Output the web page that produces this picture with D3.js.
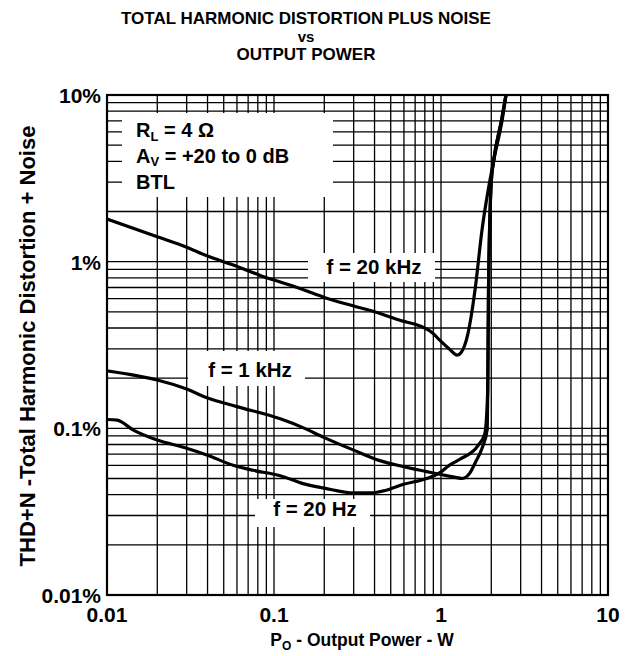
<!DOCTYPE html>
<html><head><meta charset="utf-8">
<script src="https://cdn.jsdelivr.net/npm/d3@7"></script>
<style>
html,body{margin:0;padding:0;background:#fff;}
text{font-family:"Liberation Sans",Arial,Helvetica,sans-serif;font-weight:bold;fill:#000;}
</style></head>
<body><svg id="c" width="628" height="656"></svg>
<script>
// ---- data ----
const p20k = [0.01,0.02,0.03,0.04,0.057,0.082,0.109,0.149,0.2,0.3,0.4,0.59,0.72,0.89,0.98,1.13,1.25,1.32,1.45,1.6,1.76,2.07,2.32,2.45];
const t20k = [1.8,1.41,1.22,1.08,0.955,0.83,0.755,0.68,0.61,0.542,0.5,0.44,0.417,0.373,0.339,0.297,0.275,0.285,0.37,0.68,1.55,4.07,7.0,10];

const p1k = [0.01,0.015,0.02,0.03,0.04,0.06,0.109,0.149,0.2,0.3,0.43,0.59,0.82,0.98,1.2,1.34,1.49,1.6,1.77,1.89,1.905,1.925,2.0,2.07,2.3,2.45];
const t1k = [0.221,0.207,0.195,0.172,0.152,0.135,0.114,0.101,0.088,0.074,0.064,0.059,0.055,0.053,0.051,0.05,0.054,0.062,0.077,0.098,0.17,0.68,3.0,4.07,7.0,10];

const p20 = [0.01,0.0115,0.0143,0.02,0.03,0.04,0.057,0.075,0.109,0.149,0.2,0.3,0.375,0.47,0.59,0.82,0.98,1.12,1.29,1.67,1.83,1.905,1.925,2.0,2.07,2.3,2.45];
const t20 = [0.113,0.112,0.098,0.085,0.076,0.069,0.06,0.056,0.052,0.0466,0.0438,0.041,0.041,0.0425,0.046,0.05,0.054,0.06,0.065,0.079,0.093,0.17,0.68,3.0,4.07,7.0,10];

const xTicks = [0.01,0.1,1,10];
const xTickLabels = ["0.01","0.1","1","10"];
const yTicks = [0.01,0.1,1,10];
const yTickLabels = ["0.01%","0.1%","1%","10%"];

// ---- layout ----
const svg = d3.select("#c");
const L=107, R=608, T=95, B=595;
const x = d3.scaleLog().domain([0.01,10]).range([L,R]);
const y = d3.scaleLog().domain([0.01,10]).range([B,T]);

const gridVals = [];
for (const d of [0.01,0.1,1]) for (let k=1;k<=9;k++) gridVals.push(d*k);
gridVals.push(10);

const g = svg.append("g");
g.selectAll("line.v").data(gridVals).join("line")
  .attr("x1",d=>x(d)).attr("x2",d=>x(d)).attr("y1",T).attr("y2",B)
  .attr("stroke","#000").attr("stroke-width",1.3);
g.selectAll("line.h").data(gridVals).join("line")
  .attr("y1",d=>y(d)).attr("y2",d=>y(d)).attr("x1",L).attr("x2",R)
  .attr("stroke","#000").attr("stroke-width",1.3);

// white label backgrounds
const boxes = [[122,113,333,197],[308,253,435,282],[188,351,305,386],[255,499,370,527]];
svg.selectAll("rect.bg").data(boxes).join("rect")
  .attr("x",d=>d[0]).attr("y",d=>d[1]).attr("width",d=>d[2]-d[0]).attr("height",d=>d[3]-d[1])
  .attr("fill","#fff");

// curves
svg.append("clipPath").attr("id","clip").append("rect").attr("x",L).attr("y",T).attr("width",R-L).attr("height",B-T);
const line = d3.line().x(d=>x(d[0])).y(d=>y(d[1])).curve(d3.curveMonotoneX);
const series = [[p20k,t20k],[p1k,t1k],[p20,t20]];
svg.append("g").attr("clip-path","url(#clip)").selectAll("path").data(series).join("path")
  .attr("d",s=>line(s[0].map((p,i)=>[p,s[1][i]])))
  .attr("fill","none").attr("stroke","#000").attr("stroke-width",3.2).attr("stroke-linejoin","round");

// frame
svg.append("rect").attr("x",L).attr("y",T).attr("width",R-L).attr("height",B-T)
  .attr("fill","none").attr("stroke","#000").attr("stroke-width",2.2);

// tick labels
svg.selectAll("text.xt").data(xTicks).join("text")
  .attr("x",d=>x(d)).attr("y",B+27).attr("text-anchor","middle").attr("font-size",21)
  .text((d,i)=>xTickLabels[i]);
svg.selectAll("text.yt").data(yTicks).join("text")
  .attr("x",L-6).attr("y",d=>y(d)+8).attr("text-anchor","end").attr("font-size",21)
  .text((d,i)=>yTickLabels[i]);

// titles
const tt = svg.append("text").attr("x",306).attr("text-anchor","middle").attr("font-size",17);
tt.append("tspan").attr("x",306).attr("y",24).text("TOTAL HARMONIC DISTORTION PLUS NOISE");
tt.append("tspan").attr("x",306).attr("y",42).attr("font-size",15).text("vs");
tt.append("tspan").attr("x",306).attr("y",60).text("OUTPUT POWER");

const xt = svg.append("text").attr("x",362).attr("y",646).attr("text-anchor","middle").attr("font-size",17.5);
xt.append("tspan").text("P");
xt.append("tspan").attr("font-size",12).attr("dy",4).text("O");
xt.append("tspan").attr("dy",-4).text(" - Output Power - W");

svg.append("text").attr("transform","translate(35,346) rotate(-90)").attr("text-anchor","middle")
  .attr("font-size",22).text("THD+N -Total Harmonic Distortion + Noise");

// annotations
const a1 = svg.append("text").attr("x",136).attr("y",137).attr("font-size",20);
a1.append("tspan").text("R");
a1.append("tspan").attr("font-size",13).attr("dy",4).text("L");
a1.append("tspan").attr("dy",-4).text(" = 4 Ω");
const a2 = svg.append("text").attr("x",136).attr("y",163).attr("font-size",20);
a2.append("tspan").text("A");
a2.append("tspan").attr("font-size",13).attr("dy",3).text("V");
a2.append("tspan").attr("dy",-3).text(" = +20 to 0 dB");
svg.append("text").attr("x",136).attr("y",189).attr("font-size",20).text("BTL");

svg.append("text").attr("x",374).attr("y",274).attr("text-anchor","middle").attr("font-size",20.5).text("f = 20 kHz");
svg.append("text").attr("x",250).attr("y",377).attr("text-anchor","middle").attr("font-size",20.5).text("f = 1 kHz");
svg.append("text").attr("x",315).attr("y",516).attr("text-anchor","middle").attr("font-size",20.5).text("f = 20 Hz");
</script></body></html>
